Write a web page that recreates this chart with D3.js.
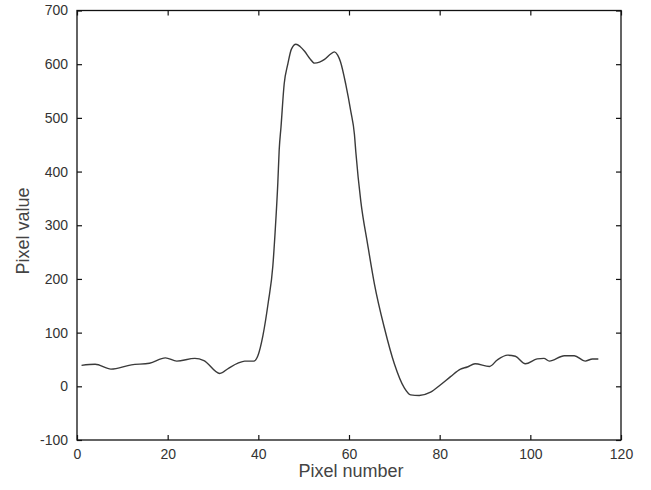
<!DOCTYPE html>
<html>
<head>
<meta charset="utf-8">
<script src="https://cdn.jsdelivr.net/npm/d3@7"></script>
<style>
  html, body { margin: 0; padding: 0; background: #fff; }
  svg { display: block; }
  .tick text { font-family: "Liberation Sans", Arial, sans-serif; fill: #333; }
  .axis-label { font-family: "Liberation Sans", Arial, sans-serif; fill: #444; }
</style>
</head>
<body>
<svg id="chart" width="651" height="490"></svg>
<script>
// Intensity profile across one image row
const pixelNumber = [1, 4, 7.5, 12, 16, 19.5, 22, 26, 28, 31.5, 33.5, 35.5, 37, 39, 39.9,
  41, 42.2, 43.2, 43.7, 44.3, 44.6, 45, 45.7, 46.5, 47.3, 48.3, 49.2, 50.2, 51.3, 52.4,
  53.5, 54.6, 55.8, 56.8, 57.5, 58.1, 59.3, 60.4, 61.2, 61.5, 62.6, 64.1, 65.6, 67.8,
  70, 72.2, 73.6, 75.5, 78, 80.2, 82.4, 84.6, 86.1, 87.8, 91, 92.7, 95, 96.7, 98.9,
  101.5, 103, 104.2, 107.5, 109.7, 112.1, 113.7, 115];
const pixelValue = [39, 41, 32, 40, 43, 53, 47, 52, 48, 24, 34, 43, 47, 47, 57,
  94, 157, 224, 287, 379, 440, 483, 563, 600, 628, 637, 633, 624, 611, 602,
  604, 609, 618, 623, 617, 605, 562, 512, 469, 437, 345, 265, 191, 109,
  42, -3, -16, -17, -11, 3, 18, 32, 36, 42, 37, 49, 58, 56, 42,
  51, 52, 47, 57, 57, 47, 51, 51];

const xTicks = [0, 20, 40, 60, 80, 100, 120];
const yTicks = [-100, 0, 100, 200, 300, 400, 500, 600, 700];
const xTitle = "Pixel number";
const yTitle = "Pixel value";

const svg = d3.select("#chart");
const plotLeft = 77, plotRight = 621, plotTop = 10.5, plotBottom = 440;

const x = d3.scaleLinear().domain([0, 120]).range([plotLeft, plotRight]);
const y = d3.scaleLinear().domain([-100, 700]).range([plotBottom, plotTop]);

// plain ASCII labels (hyphen for negatives)
const plainFormat = d => String(d);

// frame
svg.append("rect")
  .attr("x", plotLeft).attr("y", plotTop)
  .attr("width", plotRight - plotLeft).attr("height", plotBottom - plotTop)
  .attr("fill", "none").attr("stroke", "#111").attr("stroke-width", 1.3);

function styleAxis(g) {
  g.select(".domain").remove();
  g.selectAll(".tick line").attr("stroke", "#111").attr("stroke-width", 1.2);
}

// bottom axis with labels, ticks pointing inward
svg.append("g")
  .attr("transform", `translate(0,${plotBottom})`)
  .call(d3.axisBottom(x).tickValues(xTicks).tickFormat(plainFormat).tickSize(-5).tickPadding(9))
  .call(styleAxis)
  .selectAll("text").attr("font-size", 14);

// left axis with labels
svg.append("g")
  .attr("transform", `translate(${plotLeft},0)`)
  .call(d3.axisLeft(y).tickValues(yTicks).tickFormat(plainFormat).tickSize(-5).tickPadding(9))
  .call(styleAxis)
  .selectAll("text").attr("font-size", 14);

// top and right mirrored ticks
svg.append("g")
  .attr("transform", `translate(0,${plotTop})`)
  .call(d3.axisTop(x).tickValues(xTicks).tickSize(-5).tickFormat(""))
  .call(styleAxis);
svg.append("g")
  .attr("transform", `translate(${plotRight},0)`)
  .call(d3.axisRight(y).tickValues(yTicks).tickSize(-5).tickFormat(""))
  .call(styleAxis);

// profile line
const points = pixelNumber.map((p, i) => [p, pixelValue[i]]);
const line = d3.line()
  .x(d => x(d[0]))
  .y(d => y(d[1]))
  .curve(d3.curveMonotoneX);

svg.append("path")
  .datum(points)
  .attr("d", line)
  .attr("fill", "none")
  .attr("stroke", "#3a3a3a")
  .attr("stroke-width", 1.4)
  .attr("stroke-linejoin", "round");

// axis titles
svg.append("text")
  .attr("class", "axis-label")
  .attr("x", 351)
  .attr("y", 477)
  .attr("text-anchor", "middle")
  .attr("font-size", 18)
  .text(xTitle);

svg.append("text")
  .attr("class", "axis-label")
  .attr("transform", "translate(29,231) rotate(-90)")
  .attr("text-anchor", "middle")
  .attr("font-size", 18)
  .text(yTitle);
</script>
</body>
</html>
